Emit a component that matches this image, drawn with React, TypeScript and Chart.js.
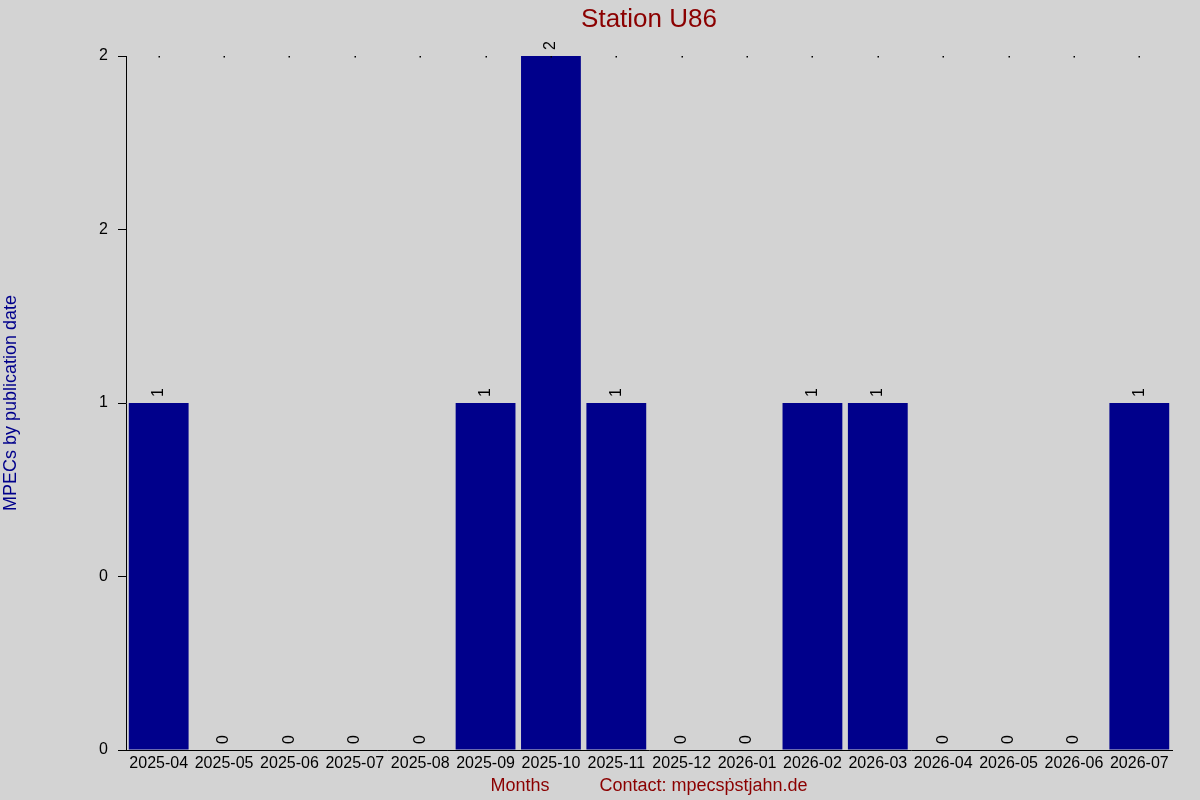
import { useEffect, useRef } from 'react';
import { Chart, registerables } from 'chart.js';

Chart.register(...registerables);

// data
const months = [
  '2025-04', '2025-05', '2025-06', '2025-07', '2025-08', '2025-09', '2025-10', '2025-11',
  '2025-12', '2026-01', '2026-02', '2026-03', '2026-04', '2026-05', '2026-06', '2026-07',
];
const mpecCounts = [1, 0, 0, 0, 0, 1, 2, 1, 0, 0, 1, 1, 0, 0, 0, 1];
// y ticks run 0..2 by 0.5, but the original prints them rounded
const yTickLabels = ['0', '0', '1', '2', '2'];

const FONT = "'Liberation Sans', Arial, sans-serif";

// rotated count above each bar
const valueLabels = {
  id: 'valueLabels',
  afterDatasetsDraw(chart: any) {
    const { ctx } = chart;
    const meta = chart.getDatasetMeta(0);
    ctx.save();
    ctx.font = `16px ${FONT}`;
    ctx.fillStyle = '#000';
    ctx.textAlign = 'left';
    ctx.textBaseline = 'middle';
    meta.data.forEach((bar: any, i: number) => {
      ctx.save();
      ctx.translate(bar.x, bar.y - 6);
      ctx.rotate(-Math.PI / 2);
      ctx.fillText(String(mpecCounts[i]), 0, 0);
      ctx.restore();
    });
    ctx.restore();
  },
};

// small dots along the top edge at each month + title centred on the plot
const topDotsAndTitle = {
  id: 'topDotsAndTitle',
  afterDraw(chart: any) {
    const { ctx, chartArea } = chart;
    const xs = chart.scales.x;
    const ys = chart.scales.y;
    const y = ys.getPixelForValue(ys.max);
    ctx.save();
    ctx.fillStyle = '#000';
    months.forEach((_, i) => {
      const x = xs.getPixelForValue(i);
      ctx.fillRect(Math.round(x) - 0.5, Math.round(y), 1.5, 1.5);
    });
    ctx.font = `26px ${FONT}`;
    ctx.fillStyle = '#8B0000';
    ctx.textAlign = 'center';
    ctx.textBaseline = 'middle';
    ctx.fillText('Station U86', (chartArea.left + chartArea.right) / 2, 19.5);
    ctx.restore();
  },
};

const App = () => {
  const canvasRef = useRef<HTMLCanvasElement | null>(null);
  const chartRef = useRef<Chart | null>(null);

  useEffect(() => {
    document.body.style.margin = '0';
    if (chartRef.current) chartRef.current.destroy();
    if (!canvasRef.current) return;

    chartRef.current = new Chart(canvasRef.current, {
      type: 'bar',
      data: {
        labels: months,
        datasets: [
          {
            label: 'MPECs',
            data: mpecCounts,
            backgroundColor: '#00008B',
            borderWidth: 0,
            barPercentage: 0.915,
            categoryPercentage: 1,
          },
        ],
      },
      options: {
        animation: false,
        responsive: true,
        maintainAspectRatio: false,
        layout: { padding: { left: 0, right: 28, top: 56, bottom: 0 } },
        plugins: {
          legend: { display: false },
          tooltip: { enabled: false },
          title: { display: false },
        },
        scales: {
          x: {
            afterFit: (scale: any) => {
              scale.height = 50;
            },
            grid: { display: true, drawOnChartArea: false, drawTicks: false },
            border: { display: true, color: '#000', width: 1 },
            ticks: {
              color: '#000',
              font: { family: FONT, size: 16 },
              padding: 4,
              autoSkip: false,
              maxRotation: 0,
            },
            title: {
              display: true,
              text: 'Months          Contact: mpecsṗstjahn.de',
              color: '#8B0000',
              font: { family: FONT, size: 18 },
              padding: { top: 0, bottom: 3 },
            },
          },
          y: {
            min: 0,
            max: 2,
            afterFit: (scale: any) => {
              scale.width = 126;
            },
            grid: {
              drawOnChartArea: false,
              drawTicks: true,
              tickLength: 8,
              tickColor: '#000',
            },
            border: { display: true, color: '#000', width: 1 },
            ticks: {
              stepSize: 0.5,
              color: '#000',
              padding: 10,
              font: { family: FONT, size: 16 },
              callback: (_v: any, i: number) => yTickLabels[i],
            },
            title: {
              display: true,
              text: 'MPECs by publication date',
              color: '#00008B',
              font: { family: FONT, size: 18 },
              padding: { top: 0, bottom: 0 },
            },
          },
        },
      },
      plugins: [valueLabels, topDotsAndTitle],
    });

    return () => {
      if (chartRef.current) {
        chartRef.current.destroy();
        chartRef.current = null;
      }
    };
  }, []);

  return (
    <div
      style={{
        position: 'fixed',
        left: 0,
        top: 0,
        width: '1200px',
        height: '800px',
        background: '#D3D3D3',
      }}
    >
      <canvas ref={canvasRef}></canvas>
    </div>
  );
};

export default App;
